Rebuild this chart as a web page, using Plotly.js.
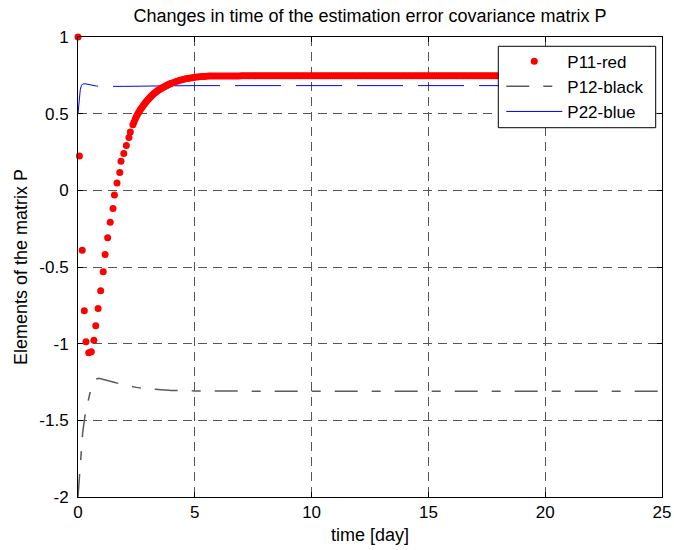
<!DOCTYPE html>
<html><head><meta charset="utf-8">
<script src="https://cdn.plot.ly/plotly-3.0.1.min.js"></script>
<style>html,body{margin:0;padding:0;background:#fff}</style>
</head><body><div id="chart" style="width:674px;height:550px"></div>
<script>
// P11 (red dots)
const p11Time = [
  0, 0.06, 0.18, 0.27, 0.34, 0.46, 0.57, 0.68, 0.76, 0.86,
  0.97, 1.08, 1.16, 1.27, 1.38, 1.50, 1.56, 1.67, 1.79, 1.84,
  1.96, 2.07, 2.18, 2.24, 2.35,
  2.40, 2.45, 2.50, 2.55, 2.60, 2.65, 2.70, 2.75, 2.80, 2.85,
  2.90, 2.95, 3.00, 3.05, 3.10, 3.15, 3.20, 3.25, 3.30, 3.35,
  3.40, 3.45, 3.50, 3.55, 3.60, 3.65, 3.70, 3.75, 3.80, 3.85,
  3.90, 3.95, 4.00,
  4.1, 4.2, 4.3, 4.4, 4.5, 4.6, 4.7, 4.8, 4.9, 5.0,
  5.1, 5.2, 5.3, 5.4, 5.5, 5.6, 5.7, 5.8, 5.9,
  6, 6.1, 6.2, 6.3, 6.4, 6.5, 6.6, 6.7, 6.8, 6.9,
  7, 7.1, 7.2, 7.3, 7.4, 7.5, 7.6, 7.7, 7.8, 7.9,
  8, 8.1, 8.2, 8.3, 8.4, 8.5, 8.6, 8.7, 8.8, 8.9,
  9, 9.1, 9.2, 9.3, 9.4, 9.5, 9.6, 9.7, 9.8, 9.9,
  10, 10.1, 10.2, 10.3, 10.4, 10.5, 10.6, 10.7, 10.8, 10.9,
  11, 11.1, 11.2, 11.3, 11.4, 11.5, 11.6, 11.7, 11.8, 11.9,
  12, 12.1, 12.2, 12.3, 12.4, 12.5, 12.6, 12.7, 12.8, 12.9,
  13, 13.1, 13.2, 13.3, 13.4, 13.5, 13.6, 13.7, 13.8, 13.9,
  14, 14.1, 14.2, 14.3, 14.4, 14.5, 14.6, 14.7, 14.8, 14.9,
  15, 15.1, 15.2, 15.3, 15.4, 15.5, 15.6, 15.7, 15.8, 15.9,
  16, 16.1, 16.2, 16.3, 16.4, 16.5, 16.6, 16.7, 16.8, 16.9,
  17, 17.1, 17.2, 17.3, 17.4, 17.5, 17.6, 17.7, 17.8, 17.9,
  18, 18.1, 18.2, 18.3, 18.4, 18.5, 18.6, 18.7, 18.8, 18.9,
  19, 19.1, 19.2, 19.3, 19.4, 19.5, 19.6, 19.7, 19.8, 19.9,
  20, 20.1, 20.2, 20.3, 20.4, 20.5, 20.6, 20.7, 20.8, 20.9,
  21, 21.1, 21.2, 21.3, 21.4, 21.5, 21.6, 21.7, 21.8, 21.9,
  22, 22.1, 22.2, 22.3, 22.4, 22.5, 22.6, 22.7, 22.8, 22.9,
  23, 23.1, 23.2, 23.3, 23.4, 23.5, 23.6, 23.7, 23.8, 23.9,
  24, 24.1, 24.2, 24.3, 24.4, 24.5, 24.6, 24.7, 24.8, 24.9,
  25
];
const p11Values = [
  1.0, 0.224, -0.39, -0.785, -0.987, -1.059, -1.052, -0.978, -0.883, -0.77,
  -0.655, -0.531, -0.419, -0.31, -0.208, -0.119, -0.03, 0.048, 0.117, 0.189,
  0.241, 0.293, 0.345, 0.38, 0.428,
  0.445, 0.465, 0.482, 0.497, 0.510, 0.522, 0.533, 0.544, 0.555, 0.565,
  0.575, 0.584, 0.593, 0.601, 0.609, 0.617, 0.624, 0.631, 0.637, 0.643,
  0.649, 0.654, 0.659, 0.664, 0.668, 0.672, 0.676, 0.680, 0.684, 0.688,
  0.692, 0.695, 0.698,
  0.704, 0.710, 0.715, 0.720, 0.723, 0.727, 0.730, 0.733, 0.735, 0.737,
  0.739, 0.740, 0.742, 0.743, 0.744, 0.745, 0.745, 0.746, 0.746,
  0.746, 0.746, 0.746, 0.746, 0.746, 0.746, 0.746, 0.746, 0.746, 0.746,
  0.747, 0.747, 0.747, 0.747, 0.747, 0.747, 0.747, 0.747, 0.747, 0.747,
  0.747, 0.747, 0.747, 0.747, 0.747, 0.747, 0.747, 0.747, 0.747, 0.747,
  0.747, 0.747, 0.747, 0.747, 0.747, 0.747, 0.747, 0.747, 0.747, 0.747,
  0.747, 0.747, 0.747, 0.747, 0.747, 0.747, 0.747, 0.747, 0.747, 0.747,
  0.747, 0.747, 0.747, 0.747, 0.747, 0.747, 0.747, 0.747, 0.747, 0.747,
  0.747, 0.747, 0.747, 0.747, 0.747, 0.747, 0.747, 0.747, 0.747, 0.747,
  0.747, 0.747, 0.747, 0.747, 0.747, 0.747, 0.747, 0.747, 0.747, 0.747,
  0.747, 0.747, 0.747, 0.747, 0.747, 0.747, 0.747, 0.747, 0.747, 0.747,
  0.747, 0.747, 0.747, 0.747, 0.747, 0.747, 0.747, 0.747, 0.747, 0.747,
  0.747, 0.747, 0.747, 0.747, 0.747, 0.747, 0.747, 0.747, 0.747, 0.747,
  0.747, 0.747, 0.747, 0.747, 0.747, 0.747, 0.747, 0.747, 0.747, 0.747,
  0.747, 0.747, 0.747, 0.747, 0.747, 0.747, 0.747, 0.747, 0.747, 0.747,
  0.747, 0.747, 0.747, 0.747, 0.747, 0.747, 0.747, 0.747, 0.747, 0.747,
  0.747, 0.747, 0.747, 0.747, 0.747, 0.747, 0.747, 0.747, 0.747, 0.747,
  0.747, 0.747, 0.747, 0.747, 0.747, 0.747, 0.747, 0.747, 0.747, 0.747,
  0.747, 0.747, 0.747, 0.747, 0.747, 0.747, 0.747, 0.747, 0.747, 0.747,
  0.747, 0.747, 0.747, 0.747, 0.747, 0.747, 0.747, 0.747, 0.747, 0.747,
  0.747
];
// P12 (black dashed)
const p12Time = [0, 0.1, 0.2, 0.3, 0.4, 0.5, 0.6, 0.7, 0.8, 0.9, 1.0, 1.5, 2, 2.5, 3, 3.5, 4, 5, 6, 8, 10, 15, 20, 25];
const p12Values = [-2.0, -1.75, -1.58, -1.47, -1.39, -1.33, -1.28, -1.25, -1.23, -1.225, -1.23, -1.25, -1.27, -1.285, -1.295, -1.30, -1.305, -1.308, -1.31, -1.31, -1.31, -1.31, -1.31, -1.31];
// P22 (blue)
const p22Time = [0, 0.05, 0.1, 0.15, 0.2, 0.3, 0.4, 0.5, 0.6, 0.8, 1.0, 1.5, 2, 3, 4, 5, 10, 15, 20, 25];
const p22Values = [0.5, 0.6, 0.66, 0.685, 0.693, 0.695, 0.692, 0.688, 0.683, 0.68, 0.678, 0.677, 0.678, 0.68, 0.682, 0.683, 0.683, 0.683, 0.683, 0.683];

const seriesNames = ['P11-red', 'P12-black', 'P22-blue'];
const xTickVals = [0, 5, 10, 15, 20, 25];
const xTickText = ['0', '5', '10', '15', '20', '25'];
const yTickVals = [-2, -1.5, -1, -0.5, 0, 0.5, 1];
const yTickText = ['-2', '-1.5', '-1', '-0.5', '0', '0.5', '1'];

const FONT = 'Liberation Sans, Arial, Helvetica, sans-serif';
const FS = 18;
const TFS = 17;

const traces = [
  {
    x: p22Time, y: p22Values, type: 'scatter', mode: 'lines',
    line: {color: '#0000ff', width: 1, dash: '46px,15px'},
    showlegend: false, hoverinfo: 'skip'
  },
  {
    x: p12Time, y: p12Values, type: 'scatter', mode: 'lines', name: seriesNames[1],
    line: {color: '#5a5a5a', width: 1.5, dash: '23px,14px,9px,14px'},
    legendgroup: 'b', legendrank: 2
  },
  {
    x: [null], y: [null], type: 'scatter', mode: 'lines', name: seriesNames[2],
    line: {color: '#0000ff', width: 1},
    legendgroup: 'c', legendrank: 3
  },
  {
    x: p11Time, y: p11Values, type: 'scatter', mode: 'markers', name: seriesNames[0],
    marker: {color: '#ff0000', size: 7, line: {width: 0}},
    cliponaxis: false, legendgroup: 'a', legendrank: 1
  }
];

const axisCommon = {
  ticks: 'inside', ticklen: 5, tickcolor: '#000', tickwidth: 1,
  showline: true, linecolor: '#000', linewidth: 1, mirror: 'ticks',
  showgrid: true, gridcolor: '#555', gridwidth: 1, griddash: '9px,6px',
  zeroline: false, tickfont: {family: FONT, size: TFS, color: '#000'},
  fixedrange: true
};

const layout = {
  width: 674, height: 550,
  margin: {l: 78, r: 12, t: 37, b: 53, pad: 0},
  paper_bgcolor: '#ffffff', plot_bgcolor: '#ffffff',
  font: {family: FONT, size: FS, color: '#000'},
  title: {
    text: 'Changes in time of the estimation error covariance matrix P',
    font: {family: FONT, size: FS, color: '#000'},
    xref: 'paper', x: 0.5, xanchor: 'center',
    yref: 'container', y: 1 - 16 / 550, yanchor: 'middle'
  },
  xaxis: Object.assign({}, axisCommon, {
    range: [0, 25], tickmode: 'array', tickvals: xTickVals, ticktext: xTickText,
    title: {text: 'time [day]', font: {family: FONT, size: FS, color: '#000'}, standoff: 6}
  }),
  yaxis: Object.assign({}, axisCommon, {
    range: [-2, 1], tickmode: 'array', tickvals: yTickVals, ticktext: yTickText,
    ticklabelstandoff: 5,
    title: {text: 'Elements of the matrix P', font: {family: FONT, size: FS, color: '#000'}, standoff: 7}
  }),
  shapes: [{
    type: 'rect', xref: 'paper', yref: 'paper', layer: 'above',
    x0: 0.7197, x1: 0.9892, y0: 0.8028, y1: 0.9798,
    fillcolor: '#ffffff', line: {color: '#000000', width: 1}
  }],
  legend: {
    x: 0.7231, y: 0.9876, xanchor: 'left', yanchor: 'top',
    bgcolor: 'rgba(0,0,0,0)', bordercolor: 'rgba(0,0,0,0)', borderwidth: 1,
    font: {family: FONT, size: 17, color: '#000'},
    itemwidth: 56, traceorder: 'grouped', tracegroupgap: 0
  },
  showlegend: true
};

Plotly.newPlot('chart', traces, layout, {displayModeBar: false, staticPlot: true});
</script>
</body></html>
